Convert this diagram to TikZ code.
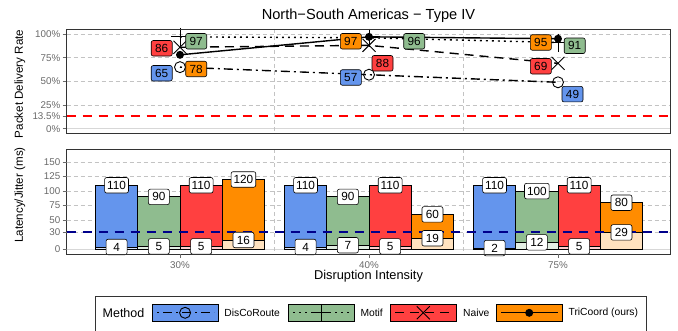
\documentclass[tikz,border=0pt]{standalone}
\usepackage{fontspec}
\setmainfont{Liberation Sans}
\usetikzlibrary{positioning}

\definecolor{discoblue}{RGB}{100,149,237}
\definecolor{motifgreen}{RGB}{143,188,143}
\definecolor{naivered}{RGB}{255,64,64}
\definecolor{tricoordorange}{RGB}{255,140,0}
\definecolor{framegrey}{RGB}{51,51,51}
\definecolor{gridgrey}{RGB}{195,195,195}
\definecolor{zerogrey}{RGB}{215,215,215}
\definecolor{ticktext}{RGB}{105,105,105}
\definecolor{targetnavy}{RGB}{0,0,139}

% markers of the four methods
\newcommand{\markcirc}[1]{\draw[mk] (#1) circle (5.5pt);}
\newcommand{\markplus}[1]{\draw[mk] (#1) ++(-9,0) -- ++(18,0) (#1) ++(0,-9) -- ++(0,18);}
\newcommand{\markcross}[1]{\draw[mk] (#1) ++(-6.5,-6.5) -- ++(13,13) (#1) ++(-6.5,6.5) -- ++(13,-13);}
\newcommand{\markdot}[1]{\fill[black] (#1) circle (4pt);}

\begin{document}
\begin{tikzpicture}[x=1pt,y=-1pt]
  \tikzstyle{panel}=[draw=framegrey,line width=0.8pt]
  \tikzstyle{gridline}=[gridgrey,line width=0.6pt,dash pattern=on 4pt off 3pt]
  \tikzstyle{zeroline}=[zerogrey,line width=1pt]
  \tikzstyle{tickmark}=[ticktext,line width=0.6pt]
  \tikzstyle{ticklab}=[text=ticktext,font=\fontsize{9.8}{11}\selectfont,inner sep=1pt]
  \tikzstyle{axtitle}=[font=\fontsize{11.6}{13}\selectfont,inner sep=0pt]
  \tikzstyle{series}=[black,line width=1.4pt]
  \tikzstyle{mk}=[black,line width=0.9pt]
  \tikzstyle{val}=[draw=black,rounded corners=2pt,line width=0.6pt,minimum width=21pt,minimum height=15.5pt,inner xsep=2.5pt,inner ysep=0pt,font=\fontsize{11.8}{13}\selectfont]
  \tikzstyle{bar}=[draw=black,line width=0.9pt]
  \tikzstyle{keybox}=[draw=black,line width=0.5pt]
  \tikzstyle{keytext}=[font=\fontsize{10.3}{12}\selectfont,anchor=west,inner sep=0pt]
  \useasboundingbox (0,0) rectangle (678,331);

  % title
  \node[font=\fontsize{14.6}{16}\selectfont,anchor=base,inner sep=0pt] (title) at (368.5,19.3) {North−South Americas − Type IV};

  % ---- delivery rate panel ----
  \fill[white] (66.5,29) rectangle (670.5,133);
  \foreach \v in {25,50,75,100}
    \draw[gridline] (66.5,{128.7-0.947*\v}) -- (670.5,{128.7-0.947*\v});
  \draw[zeroline] (66.5,128.7) -- (670.5,128.7);
  \foreach \x in {274.5,463.5}
    \draw[gridline] (\x,29) -- (\x,133);
  \draw[red,line width=1.8pt,dash pattern=on 9pt off 7pt] (66.5,115.9) -- (670.5,115.9);
  \foreach \v/\t [count=\i] in {0/0\%,13.5/13.5\%,25/25\%,50/50\%,75/75\%,100/100\%} {
    \draw[tickmark] (62.5,{128.7-0.947*\v}) -- (66.5,{128.7-0.947*\v});
    \node[ticklab,anchor=east] (ty\i) at (61.5,{128.7-0.947*\v}) {\t};
  }
  \node[axtitle,rotate=90] (ylabTop) at (20,84) {Packet Delivery Rate};

  \coordinate (dc1) at (180,{128.7-0.947*65});
  \coordinate (dc2) at (369,{128.7-0.947*57});
  \coordinate (dc3) at (558,{128.7-0.947*49});
  \coordinate (mo1) at (180,{128.7-0.947*97});
  \coordinate (mo2) at (369,{128.7-0.947*96});
  \coordinate (mo3) at (558,{128.7-0.947*91});
  \coordinate (na1) at (180,{128.7-0.947*86});
  \coordinate (na2) at (369,{128.7-0.947*88});
  \coordinate (na3) at (558,{128.7-0.947*69});
  \coordinate (tc1) at (180,{128.7-0.947*78});
  \coordinate (tc2) at (369,{128.7-0.947*97});
  \coordinate (tc3) at (558,{128.7-0.947*95});

  \draw[series,dash pattern=on 2pt off 4pt on 9pt off 4pt] (dc1) -- (dc2) -- (dc3);
  \draw[series,dash pattern=on 1.8pt off 4.2pt] (mo1) -- (mo2) -- (mo3);
  \draw[series,dash pattern=on 9pt off 6pt] (na1) -- (na2) -- (na3);
  \draw[series] (tc1) -- (tc2) -- (tc3);
  \foreach \i in {1,2,3} {
    \markcirc{dc\i}
    \markplus{mo\i}
    \markcross{na\i}
    \markdot{tc\i}
  }

  \node[val,fill=naivered] (na1lab) at (161.7,48.3) {86};
  \node[val,fill=motifgreen] (mo1lab) at (196.2,41.3) {97};
  \node[val,fill=discoblue] (dc1lab) at (161.7,73.3) {65};
  \node[val,fill=tricoordorange] (tc1lab) at (196.2,69) {78};
  \node[val,fill=tricoordorange] (tc2lab) at (350.8,41.3) {97};
  \node[val,fill=motifgreen] (mo2lab) at (414.2,41.3) {96};
  \node[val,fill=naivered] (na2lab) at (382.5,63.3) {88};
  \node[val,fill=discoblue] (dc2lab) at (350.8,77.5) {57};
  \node[val,fill=tricoordorange] (tc3lab) at (540.8,42.5) {95};
  \node[val,fill=motifgreen] (mo3lab) at (574.7,45.8) {91};
  \node[val,fill=naivered] (na3lab) at (540.8,66.3) {69};
  \node[val,fill=discoblue] (dc3lab) at (572.5,94.2) {49};
  \draw[panel] (66.5,29) rectangle (670.5,133);

  % ---- latency / jitter panel ----
  \def\bardata{0/0/discoblue/110/4,0/1/motifgreen/90/5,0/2/naivered/110/5,0/3/tricoordorange/120/16,
    1/0/discoblue/110/4,1/1/motifgreen/90/7,1/2/naivered/110/5,1/3/tricoordorange/60/19,
    2/0/discoblue/110/2,2/1/motifgreen/100/12,2/2/naivered/110/5,2/3/tricoordorange/80/29}
  \foreach \v in {30,50,75,100,125,150}
    \draw[gridline] (66.5,{249.3-0.582*\v}) -- (670.5,{249.3-0.582*\v});
  \draw[zeroline] (66.5,249.3) -- (670.5,249.3);
  \foreach \x in {274.5,463.5}
    \draw[gridline] (\x,149.3) -- (\x,254);
  \foreach \g/\k/\col/\lat/\jit in \bardata {
    \pgfmathsetmacro\xl{95.4+189*\g+42.3*\k}
    \draw[bar,fill=\col] (\xl,249.3) rectangle ({\xl+42.3},{249.3-0.582*\lat});
    \draw[bar,fill=\col!25] (\xl,249.3) rectangle ({\xl+42.3},{249.3-0.582*\jit});
  }
  \draw[targetnavy,line width=2.2pt,dash pattern=on 9pt off 7pt] (66.5,231.8) -- (670.5,231.8);
  \foreach \g/\k/\col/\lat/\jit in \bardata {
    \pgfmathsetmacro\xc{116.55+189*\g+42.3*\k}
    \node[val,fill=white] (lat\g\k) at (\xc,{249.3-0.582*\lat}) {\lat};
    \node[val,fill=white] (jit\g\k) at (\xc,{249.3-0.582*\jit}) {\jit};
  }
  \draw[panel] (66.5,149.3) rectangle (670.5,254);
  \foreach \v [count=\i] in {0,30,50,75,100,125,150} {
    \draw[tickmark] (62.5,{249.3-0.582*\v}) -- (66.5,{249.3-0.582*\v});
    \node[ticklab,anchor=east] (tb\i) at (61.5,{249.3-0.582*\v}) {\v};
  }
  \foreach \t [count=\i] in {30\%,40\%,75\%} {
    \draw[tickmark] ({180+189*(\i-1)},254) -- ({180+189*(\i-1)},258);
    \node[ticklab] (tx\i) at ({180+189*(\i-1)},265) {\t};
  }
  \node[axtitle,rotate=90] (ylabBot) at (20,195) {Latency/Jitter (ms)};
  \node[font=\fontsize{12.8}{14}\selectfont,inner sep=0pt] (xlab) at (368.5,276.5) {Disruption Intensity};

  % ---- legend ----
  \draw[framegrey,line width=0.6pt] (95.6,296.7) rectangle (646.3,345);
  \node[font=\fontsize{12.5}{14}\selectfont,inner sep=0pt] (lgMethod) at (123.5,313.5) {Method};
  \draw[keybox,fill=discoblue] (152.3,304) rectangle (217.9,321.7);
  \coordinate (kdc) at (185.1,312.8);
  \draw[series,dash pattern=on 2pt off 4pt on 9pt off 4pt] (157,312.8) -- (214,312.8);
  \markcirc{kdc}
  \node[keytext] (lgDisco) at (224.2,312.8) {DisCoRoute};
  \draw[keybox,fill=motifgreen] (288.7,304) rectangle (354.3,321.7);
  \coordinate (kmo) at (321.5,312.8);
  \draw[series,dash pattern=on 1.8pt off 4.2pt] (293,312.8) -- (351,312.8);
  \markplus{kmo}
  \node[keytext] (lgMotif) at (360.3,312.8) {Motif};
  \draw[keybox,fill=naivered] (390.5,304) rectangle (456.1,321.7);
  \coordinate (kna) at (423.3,312.8);
  \draw[series,dash pattern=on 9pt off 6pt] (395,312.8) -- (452,312.8);
  \markcross{kna}
  \node[keytext] (lgNaive) at (462.9,312.8) {Naive};
  \draw[keybox,fill=tricoordorange] (496.4,304) rectangle (562,321.7);
  \coordinate (ktc) at (529.2,312.8);
  \draw[series] (501,312.8) -- (558,312.8);
  \markdot{ktc}
  \node[keytext] (lgTri) at (568.4,312.8) {TriCoord (ours)};
\end{tikzpicture}
\end{document}
